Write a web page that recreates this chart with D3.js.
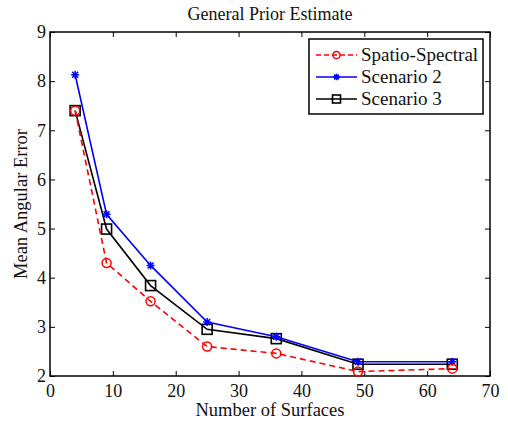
<!DOCTYPE html>
<html lang="en">
<head>
  <meta charset="utf-8" />
  <title>General Prior Estimate</title>
  <style>
    body { margin: 0; background: #fff; }
  </style>
</head>
<body>
  <div id="graphic"></div>
  <script src="https://cdn.jsdelivr.net/npm/d3@7/dist/d3.min.js"></script>
  <script>
    // data
    var surfaces = [4, 9, 16, 25, 36, 49, 64];
    var spatioSpectral = [7.4, 4.3, 3.52, 2.6, 2.46, 2.09, 2.15];
    var scenario2 = [8.13, 5.29, 4.25, 3.1, 2.8, 2.29, 2.29];
    var scenario3 = [7.4, 4.99, 3.84, 2.95, 2.76, 2.24, 2.24];
    var xTicks = [0, 10, 20, 30, 40, 50, 60, 70];
    var yTicks = [2, 3, 4, 5, 6, 7, 8, 9];

    var series = [
      { name: "Spatio-Spectral", values: spatioSpectral, color: "#ff0000", dash: "6,4", marker: "circle" },
      { name: "Scenario 2", values: scenario2, color: "#0000ff", dash: null, marker: "star" },
      { name: "Scenario 3", values: scenario3, color: "#000000", dash: null, marker: "square" }
    ];

    var serif = '"Liberation Serif", "Times New Roman", serif';
    var ink = "#111";
    var width = 508, height = 423;
    var margin = { top: 32, right: 18, bottom: 47, left: 50 };
    var w = width - margin.left - margin.right;
    var h = height - margin.top - margin.bottom;

    var svg = d3.select("#graphic").append("svg")
      .attr("width", width)
      .attr("height", height);

    var g = svg.append("g")
      .attr("transform", "translate(" + margin.left + "," + margin.top + ")");

    var x = d3.scaleLinear().domain([0, 70]).range([0, w]);
    var y = d3.scaleLinear().domain([2, 9]).range([h, 0]);

    // axes, ticks inward on all four sides
    function styleAxis(sel) {
      sel.attr("font-family", serif).attr("font-size", 18);
      sel.select(".domain").remove();
      sel.selectAll("line").attr("stroke", "#000").attr("stroke-width", 1);
      sel.selectAll("text").style("font-family", serif).style("font-size", "18px").attr("fill", ink);
    }

    g.append("g").attr("transform", "translate(0," + h + ")")
      .call(d3.axisBottom(x).tickValues(xTicks).tickFormat(d3.format("d")).tickSizeInner(-5).tickSizeOuter(0).tickPadding(8))
      .call(styleAxis);
    g.append("g")
      .call(d3.axisTop(x).tickValues(xTicks).tickSizeInner(-5).tickSizeOuter(0).tickFormat(""))
      .call(styleAxis);
    g.append("g")
      .call(d3.axisLeft(y).tickValues(yTicks).tickFormat(d3.format("d")).tickSizeInner(-5).tickSizeOuter(0).tickPadding(4))
      .call(styleAxis);
    g.append("g").attr("transform", "translate(" + w + ",0)")
      .call(d3.axisRight(y).tickValues(yTicks).tickSizeInner(-5).tickSizeOuter(0).tickFormat(""))
      .call(styleAxis);

    g.append("rect")
      .attr("width", w).attr("height", h)
      .attr("fill", "none").attr("stroke", "#000").attr("stroke-width", 1.5);

    var line = d3.line()
      .x(function(d) { return x(d[0]); })
      .y(function(d) { return y(d[1]); });

    function drawMarker(sel, type, color, size) {
      if (type === "circle") {
        sel.append("circle").attr("r", size * 0.9)
          .attr("fill", "none").attr("stroke", color).attr("stroke-width", 1.5);
      } else if (type === "square") {
        sel.append("rect").attr("x", -size).attr("y", -size).attr("width", size * 2).attr("height", size * 2)
          .attr("fill", "none").attr("stroke", color).attr("stroke-width", 1.6);
      } else {
        var a = size * 0.8, b = size * 0.6;
        sel.append("path")
          .attr("d", "M" + -a + ",0L" + a + ",0M0," + -a + "L0," + a +
            "M" + -b + "," + -b + "L" + b + "," + b + "M" + -b + "," + b + "L" + b + "," + -b)
          .attr("stroke", color).attr("stroke-width", 1.5);
      }
    }

    // draw in reverse so red sits on top like the original
    series.slice().reverse().forEach(function(s) {
      var pts = surfaces.map(function(v, i) { return [v, s.values[i]]; });
      g.append("path")
        .datum(pts)
        .attr("d", line)
        .attr("fill", "none")
        .attr("stroke", s.color)
        .attr("stroke-width", 1.6)
        .attr("stroke-dasharray", s.dash);
      g.selectAll(null)
        .data(pts)
        .enter().append("g")
        .attr("transform", function(d) { return "translate(" + x(d[0]) + "," + y(d[1]) + ")"; })
        .each(function() { drawMarker(d3.select(this), s.marker, s.color, 5); });
    });

    // legend
    var legend = svg.append("g").attr("transform", "translate(309,39)");
    legend.append("rect")
      .attr("width", 174).attr("height", 75)
      .attr("fill", "#fff").attr("stroke", "#000").attr("stroke-width", 1.5);

    series.forEach(function(s, i) {
      var row = legend.append("g").attr("transform", "translate(0," + (16 + i * 22) + ")");
      row.append("line")
        .attr("x1", 7).attr("x2", 48)
        .attr("stroke", s.color).attr("stroke-width", 1.6)
        .attr("stroke-dasharray", s.marker === "circle" ? "5,3" : null);
      var m = row.append("g").attr("transform", "translate(27.5,0)");
      drawMarker(m, s.marker, s.color, 4);
      row.append("text")
        .attr("x", 52).attr("y", 6)
        .style("font-family", serif)
        .style("font-size", "19px")
        .attr("fill", ink)
        .text(s.name);
    });

    // titles
    svg.append("text")
      .attr("x", margin.left + w / 2).attr("y", 20)
      .attr("text-anchor", "middle")
      .style("font-family", serif)
      .style("font-size", "18px")
      .attr("fill", ink)
      .text("General Prior Estimate");

    svg.append("text")
      .attr("x", margin.left + w / 2).attr("y", 416)
      .attr("text-anchor", "middle")
      .style("font-family", serif)
      .style("font-size", "18.5px")
      .attr("fill", ink)
      .text("Number of Surfaces");

    svg.append("text")
      .attr("transform", "translate(27," + (margin.top + h / 2) + ") rotate(-90)")
      .attr("text-anchor", "middle")
      .style("font-family", serif)
      .style("font-size", "18.5px")
      .attr("fill", ink)
      .text("Mean Angular Error");
  </script>
</body>
</html>
